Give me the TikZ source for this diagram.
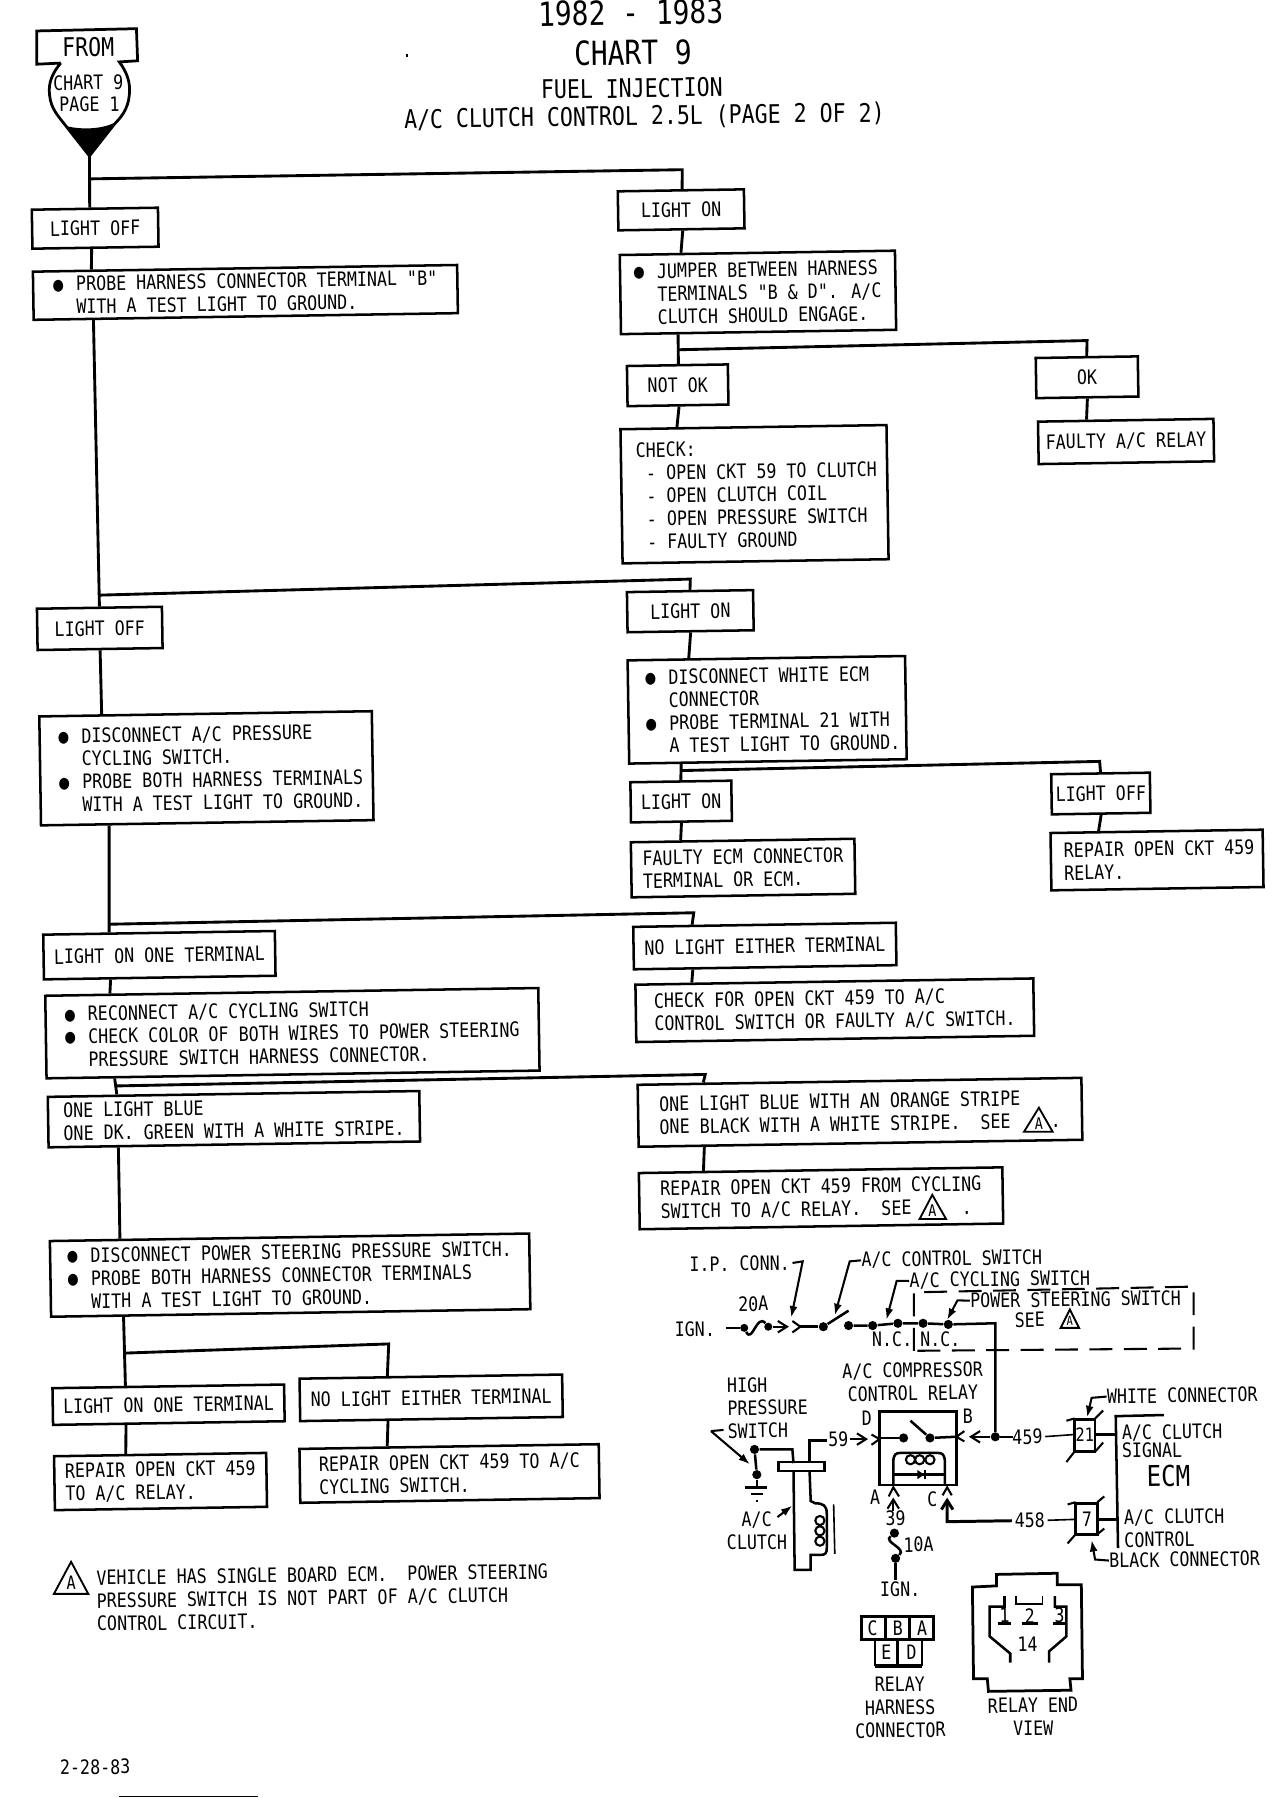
\documentclass[tikz,border=0pt]{standalone}
\usepackage{fontspec}
\usetikzlibrary{calc,arrows.meta}
\newfontfamily\pf[FakeStretch=.84]{DejaVu Sans Mono}
\newcommand{\fs}[1]{\pf\fontsize{#1}{10}\selectfont}
\newcommand{\bul}{\makebox[10pt][l]{●}}
\newcommand{\ind}{\hspace*{10pt}}
\newcommand{\vlink}[4]{\draw[ln] ($(#1.south west)!#2!(#1.south east)$) -- ($(#3.north west)!#4!(#3.north east)$);}
\newcommand{\blink}[4]{\draw[ln] (#1) -- (#2) -- ($(#3.north west)!#4!(#3.north east)$);}
\tikzset{
  ln/.style={line width=1.25pt},
  wire/.style={line width=1.1pt},
  thinw/.style={line width=.7pt},
  bx/.style 2 args={draw,line width=1.1pt,fill=white,rotate=.9,align=left,inner sep=0pt,font=\fs{8.65},
     minimum width=#1*.5pt,minimum height=#2*.5pt},
  txt/.style={inner sep=0pt,rotate=.8,font=\fs{8.65},align=left},
  ctxt/.style={inner sep=0pt,rotate=.8,font=\fs{8.65},align=center},
  dot/.style={circle,fill=black,inner sep=0pt,minimum size=4pt},
  lead/.style={line width=.9pt,-{Latex[length=5pt,width=3.5pt]}},
  barb/.style={line width=.9pt,-{Straight Barb[length=4pt,width=5pt]}},
  chev/.style={line width=.9pt},
  warn/.style={line width=.8pt,line join=miter}
}
\begin{document}
\begin{tikzpicture}[x=.5pt,y=-.5pt]
\useasboundingbox (0,0) rectangle (1116,1568);
\fill[white] (0,0) rectangle (1116,1568);
% title
\node[ctxt,font=\fs{14.5}] (t1) at (550,11) {1982 - 1983};
\node[ctxt,font=\fs{14.5}] (t2) at (552,46) {CHART 9};
\node[ctxt,font=\fs{11.2}] (t3) at (551,77) {FUEL INJECTION};
\node[ctxt,font=\fs{11.2}] (t4) at (562,102) {A/C CLUTCH CONTROL 2.5L (PAGE 2 OF 2)};
% from block
\draw[line width=1.2pt] (53,55) -- (32,56) -- (32,27) -- (119,25) -- (120,53) -- (104,54)
   .. controls (110,62) and (113,70) .. (113,78) .. controls (113,92) and (108,100) .. (100,108)
   -- (78,136) -- (56,108) .. controls (48,98) and (43,92) .. (43,78) .. controls (43,70) and (47,62) .. (53,55);
\fill (58,110) .. controls (70,113) and (88,113) .. (100,107) -- (78,136) -- cycle;
\node[ctxt,font=\fs{11.2}] (from) at (77,41) {FROM};
\node[ctxt] (ch9) at (77,72) {CHART 9};
\node[ctxt] (pg1) at (78,91) {PAGE 1};
\coordinate (tip) at (78,136);
% boxes
\node[bx={110}{34}] (lo1) at (83,199) {LIGHT OFF};
\node[bx={370}{42}] (probe1) at (214,255) {\bul PROBE HARNESS CONNECTOR TERMINAL "B"\\\ind WITH A TEST LIGHT TO GROUND.};
\node[bx={110}{34}] (lon1) at (594,183) {LIGHT ON};
\node[bx={240}{69}] (jump) at (661,255) {\bul JUMPER BETWEEN HARNESS\\\ind TERMINALS "B \& D". A/C\\\ind CLUTCH SHOULD ENGAGE.};
\node[bx={88}{35}] (notok) at (591,336) {NOT OK};
\node[bx={89}{35}] (ok) at (948,329) {OK};
\node[bx={153}{37}] (frelay) at (982,385) {FAULTY A/C RELAY};
\node[bx={232}{117}] (check) at (658,431) {\hspace*{2pt}CHECK:\\\hspace*{2pt}~- OPEN CKT 59 TO CLUTCH\\\hspace*{2pt}~- OPEN CLUTCH COIL\\\hspace*{2pt}~- OPEN PRESSURE SWITCH\\\hspace*{2pt}~- FAULTY GROUND};
\node[bx={109}{36}] (lo2) at (87,548) {LIGHT OFF};
\node[bx={110}{35}] (lon2) at (602,533) {LIGHT ON};
\node[bx={242}{90}] (dwhite) at (669,619) {\hspace*{5pt}\bul DISCONNECT WHITE ECM\\\hspace*{5pt}\ind CONNECTOR\\\hspace*{5pt}\bul PROBE TERMINAL 21 WITH\\\hspace*{5pt}\ind A TEST LIGHT TO GROUND.};
\node[bx={290}{95}] (dac) at (180,670) {\hspace*{4pt}\bul DISCONNECT A/C PRESSURE\\\hspace*{4pt}\ind CYCLING SWITCH.\\\hspace*{4pt}\bul PROBE BOTH HARNESS TERMINALS\\\hspace*{4pt}\ind WITH A TEST LIGHT TO GROUND.};
\node[bx={88}{35}] (lon3) at (594,699) {LIGHT ON};
\node[bx={86}{35}] (lo3) at (960,692) {LIGHT OFF};
\node[bx={195}{48}] (fecm) at (648,757) {FAULTY ECM CONNECTOR\\TERMINAL OR ECM.};
\node[bx={185}{50}] (rep1) at (1009,750) {\hspace*{2pt}REPAIR OPEN CKT 459\\\hspace*{2pt}RELAY.};
\node[bx={202}{39}] (lone1) at (139,833) {LIGHT ON ONE TERMINAL};
\node[bx={229}{37}] (nle1) at (667,825) {NO LIGHT EITHER TERMINAL};
\node[bx={430}{72}] (recon) at (255,901) {\bul RECONNECT A/C CYCLING SWITCH\\\bul CHECK COLOR OF BOTH WIRES TO POWER STEERING\\\ind PRESSURE SWITCH HARNESS CONNECTOR.};
\node[bx={347}{50}] (cfo) at (728,881) {CHECK FOR OPEN CKT 459 TO A/C\\CONTROL SWITCH OR FAULTY A/C SWITCH.};
\node[bx={324}{44}] (olb) at (204,976) {ONE LIGHT BLUE\\ONE DK. GREEN WITH A WHITE STRIPE.};
\node[bx={387}{54}] (oor) at (750,970) {ONE LIGHT BLUE WITH AN ORANGE STRIPE\\ONE BLACK WITH A WHITE STRIPE.~~SEE~~~~.};
\node[bx={317}{49}] (rfc) at (716,1045) {REPAIR OPEN CKT 459 FROM CYCLING\\SWITCH TO A/C RELAY.~~SEE~~~~~.};
\node[bx={418}{66}] (dps) at (253,1112) {\bul DISCONNECT POWER STEERING PRESSURE SWITCH.\\\bul PROBE BOTH HARNESS CONNECTOR TERMINALS\\\ind WITH A TEST LIGHT TO GROUND.};
\node[bx={202}{32}] (lone2) at (147,1225) {LIGHT ON ONE TERMINAL};
\node[bx={229}{37}] (nle2) at (376,1219) {NO LIGHT EITHER TERMINAL};
\node[bx={185}{47}] (rep2) at (140,1292) {REPAIR OPEN CKT 459\\TO A/C RELAY.};
\node[bx={261}{47}] (rep3) at (392,1285) {REPAIR OPEN CKT 459 TO A/C\\CYCLING SWITCH.};
% connectors
\coordinate (j1) at (78,156); \coordinate (c1) at (595,148);
\coordinate (j2) at (592,305); \coordinate (c2) at (948,297);
\coordinate (j3) at (87,519); \coordinate (c3) at (602,505);
\coordinate (j4) at (594,672); \coordinate (c4) at (959,664);
\coordinate (j5) at (95,806); \coordinate (c5) at (605,796);
\coordinate (j6) at (102,947); \coordinate (c6) at (615,937);
\coordinate (j7) at (109,1180); \coordinate (c7) at (339,1172);
\draw[ln] (tip) -- ($(lo1.north west)!.46!(lo1.north east)$);
\vlink{lo1}{.47}{probe1}{.14}
\blink{j1}{c1}{lon1}{.51}
\vlink{lon1}{.51}{jump}{.225}
\vlink{jump}{.21}{notok}{.51}
\blink{j2}{c2}{ok}{.5}
\vlink{ok}{.5}{frelay}{.28}
\vlink{notok}{.51}{check}{.215}
\vlink{probe1}{.143}{lo2}{.5}
\blink{j3}{c3}{lon2}{.5}
\vlink{lon2}{.5}{dwhite}{.223}
\vlink{dwhite}{.19}{lon3}{.5}
\blink{j4}{c4}{lo3}{.5}
\vlink{lo3}{.5}{rep1}{.23}
\vlink{lon3}{.5}{fecm}{.226}
\vlink{lo2}{.5}{dac}{.19}
\vlink{dac}{.207}{lone1}{.287}
\blink{j5}{c5}{nle1}{.227}
\vlink{nle1}{.227}{cfo}{.144}
\vlink{lone1}{.29}{recon}{.133}
\vlink{recon}{.14}{olb}{.188}
\blink{j6}{c6}{oor}{.15}
\vlink{oor}{.15}{rfc}{.18}
\vlink{olb}{.19}{dps}{.148}
\vlink{dps}{.153}{lone2}{.317}
\blink{j7}{c7}{nle2}{.336}
\vlink{lone2}{.317}{rep2}{.34}
\vlink{nle2}{.336}{rep3}{.295}
% warning triangles
\draw[warn] (893,987) -- (906,966) -- (918,987) -- cycle; \node[txt,font=\fs{7}] (wa1) at (906,980) {A};
\draw[warn] (802,1063) -- (813,1042) -- (825,1063) -- cycle; \node[txt,font=\fs{7}] (wa2) at (813,1056) {A};
\draw[warn] (925,1158) -- (933,1142) -- (941,1158) -- cycle; \node[txt,font=\fs{5.5}] (wa3) at (933,1152) {A};
\draw[warn] (47,1390) -- (62,1362) -- (77,1390) -- cycle; \node[txt,font=\fs{8}] (wa4) at (62,1380) {A};
% note
\node[txt,anchor=west] (note) at (84,1396) {VEHICLE HAS SINGLE BOARD ECM.~~POWER STEERING\\PRESSURE SWITCH IS NOT PART OF A/C CLUTCH\\CONTROL CIRCUIT.};
\node[txt] (date) at (83,1541) {2-28-83};
% scan marks
\draw[line width=.6pt] (104,1566.5) -- (225,1566.5);
\fill (354,47.5) rectangle (356,49.5);
% schematic labels
\node[txt] (ipc) at (645,1102) {I.P. CONN.};
\node[txt] (acs) at (830,1098) {A/C CONTROL SWITCH};
\node[txt] (ccs) at (872,1116) {A/C CYCLING SWITCH};
\node[txt] (pss) at (938,1133) {POWER STEERING SWITCH};
\node[txt] (see) at (898,1151) {SEE};
\node[txt] (a20) at (657,1137) {20A};
\node[txt] (ign1) at (606,1159) {IGN.};
\node[txt] (nc1) at (778,1168) {N.C.};
\node[txt] (nc2) at (820,1168) {N.C.};
\node[ctxt] (comp) at (796,1205) {A/C COMPRESSOR\\CONTROL RELAY};
\node[txt] (hps) at (634,1228) [anchor=west] {HIGH\\PRESSURE\\SWITCH};
\node[txt] (lD) at (756,1237) {D};
\node[txt] (lB) at (844,1235) {B};
\node[txt] (l59) at (731,1255) {59};
\node[txt] (l459) at (896,1253) {459};
\node[txt] (l458) at (898,1326) {458};
\node[txt] (lA) at (763,1306) {A};
\node[txt] (lC) at (813,1307) {C};
\node[txt] (l39) at (781,1324) {39};
\node[txt] (l10) at (801,1347) {10A};
\node[txt] (ign2) at (785,1386) {IGN.};
\node[ctxt] (clt) at (660,1335) {A/C\\CLUTCH};
\node[txt] (wc) at (1031,1217) {WHITE CONNECTOR};
\node[txt,anchor=west] (sig1) at (978,1250) {A/C CLUTCH};
\node[txt,anchor=west] (sig2) at (978,1265) {SIGNAL};
\node[ctxt,font=\fs{12.5}] (ecm) at (1019,1287) {ECM};
\node[txt,anchor=west] (ctl) at (980,1333) {A/C CLUTCH\\CONTROL};
\node[txt] (bc) at (1033,1360) {BLACK CONNECTOR};
\node[txt,font=\fs{8}] (p21) at (946,1251) {21};
\node[txt] (p7) at (948,1325) {7};
% dashed enclosure
\draw[line width=.9pt,dash pattern=on 10pt off 5pt] (797,1178) -- (797,1127) -- (1041,1122) -- (1041,1176) -- cycle;
% top wire
\coordinate (ws) at (633,1158);
\node[dot,minimum size=3.5pt] (d1) at (649,1158) {};
\node[dot,minimum size=3.5pt] (d2) at (670,1157) {};
\node[dot] (d3) at (718,1157) {};
\node[dot] (d4) at (740,1156) {};
\node[dot] (d5) at (761,1156) {};
\node[dot] (d6) at (783,1154) {};
\node[dot] (d7) at (805,1154) {};
\node[dot] (d8) at (827,1155) {};
\node[dot] (d9) at (868,1253) {};
\coordinate (cn1) at (698,1157);
\coordinate (crn) at (868,1154);
\draw[wire] (ws) -- (d1);
\draw[wire] (d1) .. controls (656,1172) and (660,1145) .. (d2);
\draw[barb] (d2) -- (688,1157);
\draw[chev] (691,1152) -- (cn1) -- (691,1162);
\draw[wire] (cn1) -- (d3);
\draw[wire] (d3) -- (740,1143);
\draw[wire] (d4) -- (d5) -- (d6) -- (d7) -- (d8) -- (crn) -- (d9);
\draw[lead] (ipc.east) ++(2,0) coordinate (e1) -- (700,1100) -- (690,1149);
\draw[lead] (acs.west) -- (741,1100) -- (728,1147);
\draw[lead] (ccs.west) -- (782,1117) -- (773,1151);
\draw[lead] (pss.west) -- (835,1134) -- (826,1151);
% relay
\coordinate (rNW) at (767,1231); \coordinate (rSE) at (834,1295);
\draw[wire] (rNW) rectangle (rSE);
\node[dot] (rd1) at (788,1254) {};
\node[dot] (rd2) at (811,1254) {};
\draw[wire] (768,1254) -- (rd1);
\draw[wire] (rd2) -- (833,1253);
\draw[wire] (rd2) -- (794,1239);
\draw[barb] (741,1255) -- (757,1255);
\draw[chev] (760,1251) -- (767,1255) -- (760,1260);
\draw[chev] (841,1248) -- (834,1253) -- (841,1257);
\draw[barb] (d9) -- (845,1253);
\draw[wire] (779,1295) -- (779,1276) .. controls (779,1268) and (781,1267) .. (786,1267) -- (817,1267) .. controls (822,1267) and (824,1268) .. (824,1276) -- (824,1295);
\draw[wire] (779,1286) -- (824,1286);
\draw[line width=.9pt] (794,1273) circle (4) (802,1273) circle (4) (811,1273) circle (4);
\fill (800,1282) -- (800,1290) -- (806,1286) -- cycle;
\draw[line width=.9pt] (807,1282) -- (807,1290);
\draw[chev] (775,1305) -- (779,1297) -- (784,1305);
\draw[chev] (822,1304) -- (826,1297) -- (830,1304);
\draw[barb] (779,1318) -- (779,1306);
% 10A fuse
\node[dot] (f1) at (780,1337) {};
\node[dot] (f2) at (781,1359) {};
\coordinate (ign2t) at (781,1378);
\draw[wire] (f1) .. controls (770,1345) and (791,1350) .. (f2);
\draw[wire] (f2) -- (ign2t);
% 458 line
\coordinate (c458) at (826,1327);
\draw[line width=1.3pt,-{Straight Barb[length=4pt,width=5pt]}] (l458.west) ++(-2,0) -- (c458) -- (826,1306);
% connector 21
\coordinate (k21) at (955,1251);
\draw[wire] (937,1238) rectangle (955,1266);
\draw[line width=.9pt] (930,1239) -- (937,1237) (955,1237) -- (962,1230) (955,1266) -- (962,1258) (937,1266) -- (930,1275);
\draw[thinw] (l459.east) ++(2,0) -- (937,1251);
\draw[wire] (d9) -- (883,1253);
\draw[wire] (k21) -- (973,1251);
% connector 7
\draw[wire] (938,1311) rectangle (957,1338);
\draw[line width=.9pt] (931,1312) -- (938,1310) (957,1310) -- (963,1305) (957,1338) -- (963,1333) (938,1338) -- (931,1346);
\draw[thinw] (l458.east) ++(2,0) -- (938,1325);
\draw[wire] (957,1325) -- (974,1325);
% ECM
\draw[wire] (1015,1234) -- (973,1235) -- (975,1350);
\draw[lead] (wc.west) -- (952,1219) -- (948,1236);
\draw[lead] (bc.west) -- (955,1360) -- (952,1343);
% high pressure switch
\node[dot] (s1) at (658,1264) {};
\node[dot] (s2) at (660,1286) {};
\draw[wire] (s1) -- (s2);
\draw[wire] (s2) -- (660,1297);
\draw[wire] (650,1297) -- (669,1297);
\draw[line width=.9pt] (655,1303) -- (665,1303);
\draw[line width=1pt] (659,1309) -- (661,1309);
\draw[line width=.9pt] (631,1247) -- (620,1248);
\draw[lead] (620,1248) -- (654,1277);
\draw[wire] (s1) -- (691,1264) -- (692,1276);
\draw[wire] (679,1275) rectangle (719,1283);
\draw[wire] (692,1283) -- (693,1369) -- (707,1369) -- (707,1356) -- (716,1356) .. controls (720,1356) and (721,1354) .. (721,1350) -- (721,1320) .. controls (721,1313) and (718,1311) .. (711,1311) -- (707,1309) -- (706,1283);
\draw[wire] (706,1275) -- (706,1256) -- (721,1256);
\draw[line width=.9pt] (715,1326) circle (4) (715,1335) circle (4) (715,1344) circle (4);
\draw[thinw] (727,1312) -- (728,1355);
\draw[lead] (678,1323) -- (691,1313);
% harness connector
\draw[line width=1.2pt] (751,1410) rectangle (772,1430) (772,1410) rectangle (793,1430) (793,1410) rectangle (814,1430);
\draw[line width=1.2pt] (763,1430) rectangle (783,1452) (783,1430) rectangle (804,1452);
\draw[line width=1.4pt] (763,1453) -- (804,1453);
\node[txt] (hC) at (761,1420) {C};
\node[txt] (hB) at (783,1420) {B};
\node[txt] (hA) at (804,1420) {A};
\node[txt] (hE) at (773,1441) {E};
\node[txt] (hD) at (795,1441) {D};
\node[ctxt] (hl) at (785,1489) {RELAY\\HARNESS\\CONNECTOR};
% relay end view
\draw[line width=1.2pt] (848,1384) -- (869,1383) -- (869,1373) -- (922,1372) -- (922,1382) -- (943,1382) -- (944,1464) -- (933,1464) -- (934,1474) -- (862,1475) -- (861,1464) -- (849,1464) -- cycle;
\draw[wire] (876,1392) -- (876,1401) -- (863,1401) -- (863,1427) -- (881,1442) -- (881,1450);
\draw[wire] (920,1392) -- (920,1401) -- (930,1401) -- (930,1427) -- (915,1440) -- (915,1450);
\draw[thinw] (886,1392) -- (886,1399) -- (909,1399) -- (909,1392);
\node[txt] (e1t) at (876,1409) {1};
\node[txt] (e2t) at (898,1409) {2};
\node[txt] (e3t) at (924,1409) {3};
\draw[wire] (870,1416) -- (882,1416) (891,1416) -- (905,1416) (918,1416) -- (930,1416);
\node[txt] (e14) at (896,1434) {14};
\node[ctxt] (evw) at (901,1497) {RELAY END\\VIEW};
\end{tikzpicture}
\end{document}
